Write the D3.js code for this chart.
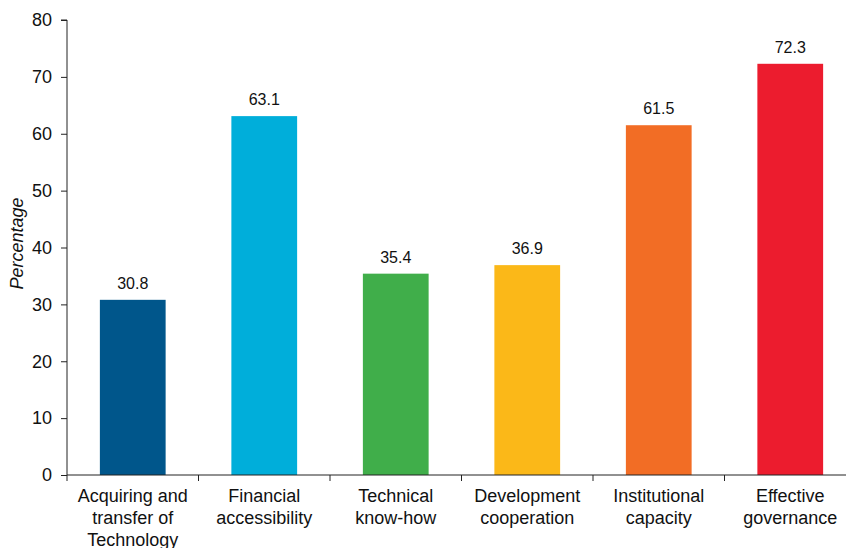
<!DOCTYPE html>
<html>
<head>
<meta charset="utf-8">
<script src="https://cdn.jsdelivr.net/npm/d3@7"></script>
<style>
  html, body { margin: 0; padding: 0; background: #fff; }
  svg { display: block; font-family: "Liberation Sans", Arial, sans-serif; }
</style>
</head>
<body>
<svg id="chart" width="846" height="548"></svg>
<script>
// Categories (multi-line labels), values and colours
const categories = [
  ["Acquiring and", "transfer of", "Technology"],
  ["Financial", "accessibility"],
  ["Technical", "know-how"],
  ["Development", "cooperation"],
  ["Institutional", "capacity"],
  ["Effective", "governance"]
];
const values = [30.8, 63.1, 35.4, 36.9, 61.5, 72.3];
const colors = ["#00568b", "#00aeda", "#40ae4a", "#fbb818", "#f26d25", "#ec1c2e"];
const yTicks = [0, 10, 20, 30, 40, 50, 60, 70, 80];
const yTitle = "Percentage";

const svg = d3.select("#chart");
const margin = { left: 67, top: 20, bottom: 73 };
const plotRight = 856;
const height = 548;

const keys = categories.map((c, i) => i);
const x = d3.scaleBand()
  .domain(keys)
  .range([margin.left, plotRight])
  .paddingInner(0.5)
  .paddingOuter(0.25);

const y = d3.scaleLinear()
  .domain([0, 80])
  .range([height - margin.bottom, margin.top]);

// Y axis
const yAxis = svg.append("g")
  .attr("transform", `translate(${margin.left},0)`)
  .call(d3.axisLeft(y).tickValues(yTicks).tickSize(6).tickPadding(9).tickFormat(d3.format("d")));
yAxis.select(".domain").attr("d", `M-6,${y(80)}H0V${y(0)}`).attr("stroke", "#222");
yAxis.selectAll(".tick line").attr("stroke", "#222");
yAxis.selectAll(".tick text").attr("font-size", 18).attr("fill", "#111")
  .attr("font-family", "Liberation Sans, Arial, sans-serif");

// Y title
svg.append("text")
  .attr("transform", `translate(23,${(y(0) + y(80)) / 2 - 4}) rotate(-90)`)
  .attr("text-anchor", "middle")
  .attr("font-size", 18)
  .attr("font-style", "italic")
  .attr("fill", "#111")
  .text(yTitle);

// Bars
svg.append("g").selectAll("rect")
  .data(values)
  .join("rect")
  .attr("x", (d, i) => x(i))
  .attr("y", d => y(d))
  .attr("width", x.bandwidth())
  .attr("height", d => y(0) - y(d))
  .attr("fill", (d, i) => colors[i]);

// Value labels
svg.append("g").selectAll("text")
  .data(values)
  .join("text")
  .attr("x", (d, i) => x(i) + x.bandwidth() / 2)
  .attr("y", d => y(d) - 11)
  .attr("text-anchor", "middle")
  .attr("font-size", 16)
  .attr("fill", "#111")
  .text(d => d3.format(".1f")(d));

// X axis: baseline with ticks at category boundaries
const step = x.step();
const boundaries = d3.range(keys.length + 1).map(i => margin.left + i * step);
const xAxis = svg.append("g");
xAxis.append("line")
  .attr("x1", margin.left).attr("x2", plotRight)
  .attr("y1", y(0)).attr("y2", y(0))
  .attr("stroke", "#222");
xAxis.selectAll("line.tick")
  .data(boundaries)
  .join("line")
  .attr("class", "tick")
  .attr("x1", d => d).attr("x2", d => d)
  .attr("y1", y(0)).attr("y2", y(0) + 6)
  .attr("stroke", "#222");

// Category labels
const labels = svg.append("g").selectAll("text")
  .data(categories)
  .join("text")
  .attr("x", (d, i) => x(i) + x.bandwidth() / 2)
  .attr("y", y(0) + 27)
  .attr("text-anchor", "middle")
  .attr("font-size", 18)
  .attr("fill", "#111");
labels.selectAll("tspan")
  .data(d => d)
  .join("tspan")
  .attr("x", function () { return d3.select(this.parentNode).attr("x"); })
  .attr("dy", (d, i) => i === 0 ? 0 : 22)
  .text(d => d);
</script>
</body>
</html>
